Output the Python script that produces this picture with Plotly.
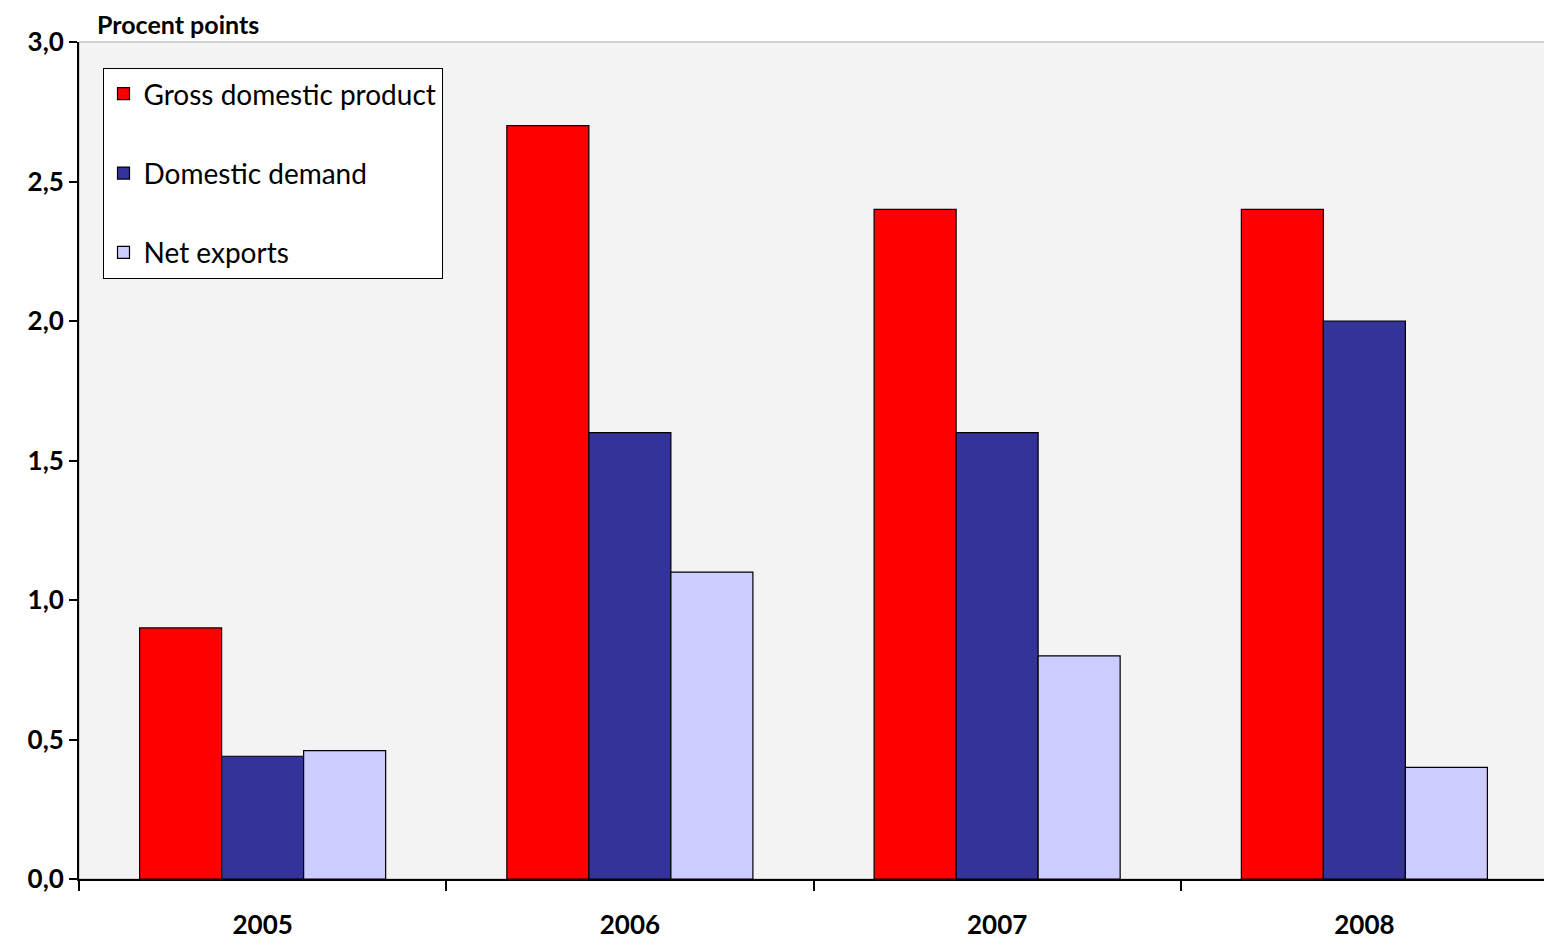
import plotly.graph_objects as go

years = ["2005", "2006", "2007", "2008"]
gdp = [0.9, 2.7, 2.4, 2.4]
demand = [0.44, 1.6, 1.6, 2.0]
net_exports = [0.46, 1.1, 0.8, 0.4]

series = [
    ("Gross domestic product", gdp, "#ff0000"),
    ("Domestic demand", demand, "#333399"),
    ("Net exports", net_exports, "#ccccff"),
]

fig = go.Figure()
for i, (name, vals, col) in enumerate(series):
    fig.add_trace(go.Bar(
        x=years, y=vals, name=name, legendgroup=str(i),
        marker=dict(color=col, line=dict(color="black", width=1.2)),
    ))

font = "Lato, Open Sans, sans-serif"
fig.update_layout(
    width=1552, height=939,
    margin=dict(l=71, r=12, t=34, b=68, autoexpand=False),
    paper_bgcolor="white",
    plot_bgcolor="#f3f3f3",
    barmode="group",
    bargap=0.33,
    bargroupgap=0,
    font=dict(family=font, size=22, color="black"),
    showlegend=True,
    legend=dict(
        x=0.016, y=0.969, xanchor="left", yanchor="top",
        bgcolor="white", bordercolor="black", borderwidth=1,
        traceorder="grouped", tracegroupgap=40,
        font=dict(size=28, family=font),
        itemwidth=30,
    ),
    xaxis=dict(
        automargin=False,
        showline=True, linecolor="black", linewidth=2,
        ticks="outside", ticklen=10, tickwidth=2, tickcolor="black",
        tickson="boundaries", ticklabelstandoff=22,
        tickfont=dict(size=26, family=font, weight="bold"),
    ),
    yaxis=dict(
        automargin=False,
        range=[0, 3], dtick=0.5, tickformat=".1f",
        showline=True, linecolor="black", linewidth=2,
        ticks="outside", ticklen=8, tickwidth=2, tickcolor="black",
        showgrid=False, zeroline=False,
        tickfont=dict(size=26, family=font, weight="bold"),
    ),
    separators=", ",
    shapes=[dict(type="rect", xref="paper", yref="paper", x0=0, x1=1, y0=0, y1=1,
                 line=dict(color="#aaaaaa", width=1), layer="below")],
    annotations=[dict(
        text="<b>Procent points</b>", xref="paper", yref="paper",
        x=0.011, y=1.0, xanchor="left", yanchor="bottom", yshift=1,
        showarrow=False, font=dict(size=25, family=font),
    )],
)

fig.write_html("out.html")
